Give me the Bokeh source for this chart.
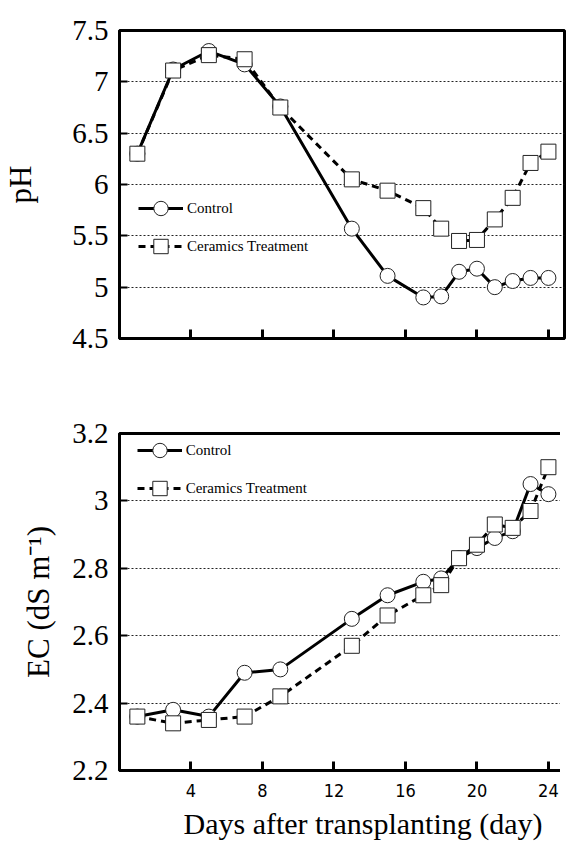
from bokeh.plotting import figure
from bokeh.layouts import column
from bokeh.models import Legend, LegendItem, FixedTicker, Title
from bokeh.embed import file_html
from bokeh.resources import INLINE

# ---- data ----
days = [1, 3, 5, 7, 9, 13, 15, 17, 18, 19, 20, 21, 22, 23, 24]
ph_control = [6.30, 7.12, 7.30, 7.17, 6.76, 5.57, 5.11, 4.90, 4.91, 5.15, 5.18, 5.00, 5.06, 5.09, 5.09]
ph_ceramics = [6.30, 7.11, 7.26, 7.22, 6.75, 6.05, 5.94, 5.77, 5.57, 5.45, 5.46, 5.66, 5.87, 6.21, 6.32]
ec_control = [2.36, 2.38, 2.36, 2.49, 2.50, 2.65, 2.72, 2.76, 2.77, 2.83, 2.86, 2.89, 2.91, 3.05, 3.02]
ec_ceramics = [2.36, 2.34, 2.35, 2.36, 2.42, 2.57, 2.66, 2.72, 2.75, 2.83, 2.87, 2.93, 2.92, 2.97, 3.10]

series_names = ["Control", "Ceramics Treatment"]
x_ticks = [4, 8, 12, 16, 20, 24]
x_tick_labels = ["4", "8", "12", "16", "20", "24"]
ph_ticks = [4.5, 5, 5.5, 6, 6.5, 7, 7.5]
ph_tick_labels = ["4.5", "5", "5.5", "6", "6.5", "7", "7.5"]
ec_ticks = [2.2, 2.4, 2.6, 2.8, 3.0, 3.2]
ec_tick_labels = ["2.2", "2.4", "2.6", "2.8", "3", "3.2"]

SERIF = "Liberation Serif"
NARROW = "Liberation Sans Narrow, DejaVu Sans Condensed, Liberation Sans"


def make_panel(ctrl, cer, yr, yticks, ylabels, ylab, lab_standoff, legend_loc,
               frame_h, top, bottom, show_x_labels):
    p = figure(frame_width=445, frame_height=frame_h, x_range=(0, 24.9), y_range=yr,
               output_backend="svg", toolbar_location=None,
               min_border_left=113, min_border_right=2,
               min_border_top=top, min_border_bottom=bottom)
    p.outline_line_color = "black"
    p.outline_line_width = 3
    p.outline_line_alpha = 1
    p.background_fill_color = "white"
    p.border_fill_color = "white"

    p.xgrid.visible = False
    p.ygrid.ticker = FixedTicker(ticks=yticks[1:-1])
    p.ygrid.grid_line_color = "#222222"
    p.ygrid.grid_line_dash = "2 2"
    p.ygrid.grid_line_width = 1

    xa = p.xaxis[0]
    xa.ticker = FixedTicker(ticks=x_ticks)
    xa.axis_line_width = 3
    xa.major_tick_in = 9
    xa.major_tick_out = 0
    xa.major_tick_line_width = 3
    xa.minor_tick_line_color = None
    xa.major_label_text_font = NARROW
    xa.major_label_text_font_size = "18px"
    xa.major_label_standoff = 13
    xa.major_label_text_color = "black"
    if show_x_labels:
        xa.major_label_overrides = dict(zip(x_ticks, x_tick_labels))
    else:
        xa.major_label_overrides = {t: "" for t in x_ticks}

    ya = p.yaxis[0]
    ya.ticker = FixedTicker(ticks=yticks)
    ya.major_label_overrides = dict(zip(yticks, ylabels))
    ya.axis_line_width = 3
    ya.major_tick_in = 8
    ya.major_tick_out = 0
    ya.major_tick_line_width = 2
    ya.minor_tick_line_color = None
    ya.major_label_standoff = 11
    ya.major_label_text_font = SERIF
    ya.major_label_text_font_size = "29px"
    ya.major_label_text_color = "black"
    ya.axis_label = ylab
    ya.axis_label_text_font = SERIF
    ya.axis_label_text_font_style = "normal"
    ya.axis_label_text_font_size = "31px"
    ya.axis_label_text_color = "black"
    ya.axis_label_standoff = lab_standoff

    l1 = p.line(days, ctrl, line_width=3, color="black")
    l2 = p.line(days, cer, line_width=3, color="black", line_dash="7 5")
    m1 = p.scatter(days, ctrl, marker="circle", size=15, fill_color="white",
                   line_color="#222222", line_width=1)
    m2 = p.scatter(days, cer, marker="square", size=15, fill_color="white",
                   line_color="#222222", line_width=1)

    leg = Legend(items=[LegendItem(label=series_names[0], renderers=[l1, m1]),
                        LegendItem(label=series_names[1], renderers=[l2, m2])],
                 location=legend_loc, glyph_width=45, glyph_height=36, label_height=36,
                 spacing=2, padding=0, margin=0, label_standoff=4,
                 border_line_color=None, background_fill_alpha=0,
                 label_text_font=SERIF, label_text_font_size="15px",
                 label_text_color="black")
    p.add_layout(leg)
    return p


p1 = make_panel(ph_control, ph_ceramics, (4.5, 7.5), ph_ticks, ph_tick_labels, "pH", 31,
                (19, 74), 308, 30, 62, False)
p2 = make_panel(ec_control, ec_ceramics, (2.2, 3.2), ec_ticks, ec_tick_labels,
                "EC (dS m\u207b\u00b9)", 13, (31, 264), 337, 33, 80, True)

t = Title(text="Days after transplanting (day)", align="left", offset=64,
          text_font=SERIF, text_font_size="30px", text_font_style="normal",
          text_color="black")
p2.add_layout(t, "below")

layout = column(p1, p2, spacing=0)
open("out.html", "w").write(file_html(layout, INLINE))
